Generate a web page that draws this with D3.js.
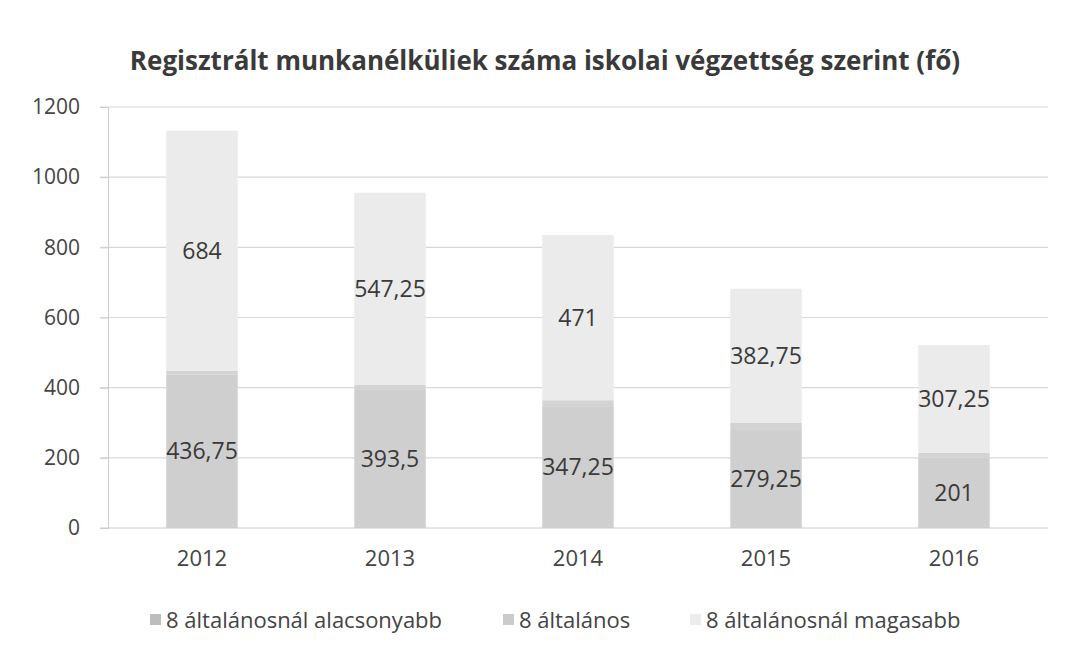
<!DOCTYPE html>
<html lang="hu">
<head>
<meta charset="UTF-8">
<title>Regisztrált munkanélküliek</title>
<script src="https://d3js.org/d3.v7.min.js"></script>
<style>
  body { margin: 0; background: #fff; }
  svg { font-family: "Open Sans", sans-serif; }
</style>
</head>
<body>
<svg id="chart" width="1069" height="648"></svg>
<script>
// chart data
const years = ['2012', '2013', '2014', '2015', '2016'];
const seriesNames = ['8 általánosnál alacsonyabb', '8 általános', '8 általánosnál magasabb'];
const below8 = [436.75, 393.5, 347.25, 279.25, 201];
const exactly8 = [12, 15, 17, 20, 13];   // thin, unlabelled
const above8 = [684, 547.25, 471, 382.75, 307.25];
const yTicks = [0, 200, 400, 600, 800, 1000, 1200];

const colors = ['#cfcfcf', '#d3d3d3', '#ebebeb'];
const swatch = ['#bdbdbd', '#cbcbcb', '#ececec'];
const labelled = [true, false, true];

const rows = years.map((y, i) => ({ year: y, s0: below8[i], s1: exactly8[i], s2: above8[i] }));
const stack = d3.stack().keys(['s0', 's1', 's2'])(rows);

const svg = d3.select('#chart');
const x = d3.scaleBand().domain(years).range([108, 1048]).paddingInner(0.62).paddingOuter(0.31);
const y = d3.scaleLinear().domain([0, 1200]).range([528, 107]);

// title
svg.append('text')
  .attr('x', 545).attr('y', 70)
  .attr('text-anchor', 'middle')
  .style('font-size', '26px').style('font-weight', 'bold').style('fill', '#3a3a3a')
  .text('Regisztrált munkanélküliek száma iskolai végzettség szerint (fő)');

// gridlines
svg.append('g')
  .selectAll('line').data(yTicks.filter(d => d > 0)).enter().append('line')
  .attr('x1', 100).attr('x2', 1048)
  .attr('y1', d => y(d)).attr('y2', d => y(d))
  .style('stroke', '#d9d9d9').style('stroke-width', 1.2);

// y axis
const yAxis = svg.append('g').attr('transform', 'translate(108,0)')
  .call(d3.axisLeft(y).tickValues(yTicks).tickFormat(d3.format('d')).tickSize(8).tickPadding(20));
yAxis.select('.domain').style('stroke', '#ccc');
yAxis.selectAll('.tick line').style('stroke', '#ccc');
yAxis.selectAll('text').style('font-size', '21px').style('fill', '#444')
  .style('font-family', '"Open Sans", sans-serif');

// bars
const layers = svg.append('g').selectAll('g').data(stack).enter().append('g')
  .style('fill', (d, i) => colors[i]);
layers.selectAll('rect').data(d => d).enter().append('rect')
  .attr('x', d => x(d.data.year))
  .attr('width', x.bandwidth())
  .attr('y', d => y(d[1]))
  .attr('height', d => y(d[0]) - y(d[1]));

// x axis baseline
const xAxis = svg.append('g').attr('transform', 'translate(0,528)')
  .call(d3.axisBottom(x).tickSize(0).tickPadding(22));
xAxis.select('.domain').attr('d', 'M100,0H1048').style('stroke', '#ccc');
xAxis.selectAll('text').style('font-size', '22px').style('fill', '#444')
  .style('font-family', '"Open Sans", sans-serif');

// data labels
stack.forEach((layer, i) => {
  if (!labelled[i]) return;
  svg.append('g').selectAll('text').data(layer).enter().append('text')
    .attr('x', d => x(d.data.year) + x.bandwidth() / 2)
    .attr('y', d => (y(d[0]) + y(d[1])) / 2)
    .attr('dy', '0.35em')
    .attr('text-anchor', 'middle')
    .style('font-size', '23px').style('fill', '#3a3a3a')
    .text(d => String(d[1] - d[0]).replace('.', ','));
});

// legend
const legendX = [150, 503, 690];
const legend = svg.append('g').selectAll('g').data(seriesNames).enter().append('g')
  .attr('transform', (d, i) => `translate(${legendX[i]},620)`);
legend.append('rect')
  .attr('x', 0).attr('y', -6).attr('width', 11).attr('height', 11)
  .style('fill', (d, i) => swatch[i]);
legend.append('text')
  .attr('x', 16).attr('dy', '0.35em')
  .style('font-size', '22px').style('fill', '#444')
  .text(d => d);
</script>
</body>
</html>
